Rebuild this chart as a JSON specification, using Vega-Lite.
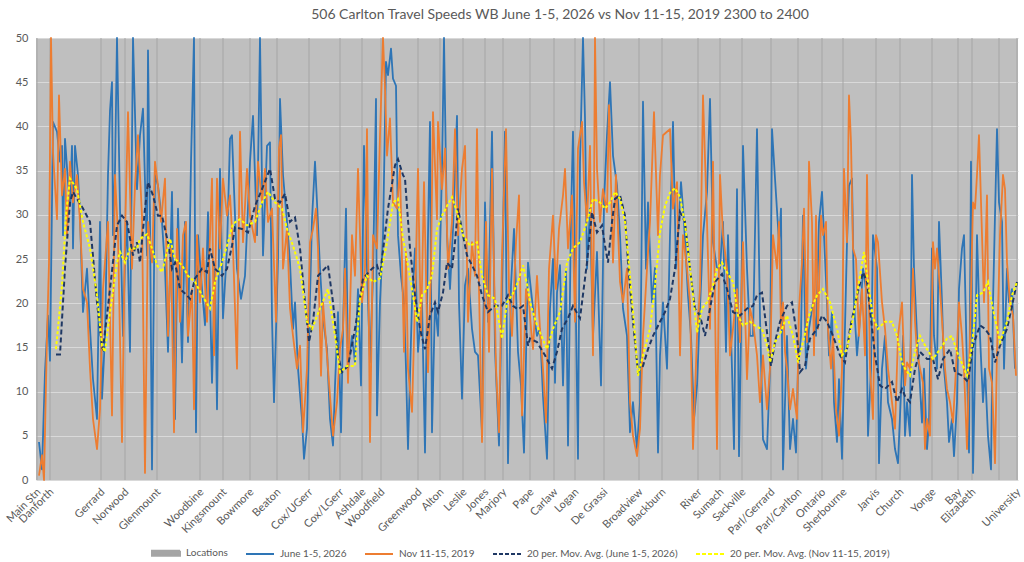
{
  "$schema": "https://vega.github.io/schema/vega-lite/v6.json",
  "width": 982,
  "height": 442,
  "autosize": "none",
  "padding": {"left": 36, "top": 38, "right": 6, "bottom": 82},
  "background": "white",
  "title": {
    "text": "506 Carlton Travel Speeds WB June 1-5, 2026 vs Nov 11-15, 2019 2300 to 2400",
    "font": "Lato", "fontSize": 14, "fontWeight": "normal", "color": "#595959",
    "anchor": "middle", "offset": 10, "dx": 33
  },
  "config": {
    "view": {"fill": "#bfbfbf", "stroke": null},
    "axisY": {
      "grid": true, "gridColor": "#d9d9d9", "gridWidth": 1, "domain": false, "ticks": false,
      "labelColor": "#595959", "labelFont": "Lato", "labelFontSize": 11, "labelPadding": 8, "tickCount": 10
    },
    "legend": {
      "orient": "none", "legendX": 115, "legendY": 500, "direction": "horizontal",
      "symbolType": "stroke", "symbolSize": 784, "symbolStrokeWidth": 2,
      "labelFont": "Lato", "labelFontSize": 10, "labelColor": "#595959", "labelLimit": 300,
      "columnPadding": 14, "labelOffset": 5
    }
  },
  "datasets": {
    "locations": [
      {"i":1,"name":"Main Stn"},{"i":14,"name":"Danforth"},{"i":65,"name":"Gerrard"},{"i":89,"name":"Norwood"},
      {"i":121,"name":"Glenmount"},{"i":164,"name":"Woodbine"},{"i":187,"name":"Kingsmount"},{"i":214,"name":"Bowmore"},
      {"i":241,"name":"Beaton"},{"i":273,"name":"Cox/UGerr"},{"i":304,"name":"Cox/LGerr"},{"i":326,"name":"Ashdale"},
      {"i":345,"name":"Woodfield"},{"i":382,"name":"Greenwood"},{"i":404,"name":"Alton"},{"i":427,"name":"Leslie"},
      {"i":449,"name":"Jones"},{"i":467,"name":"Marjory"},{"i":494,"name":"Pape"},{"i":518,"name":"Carlaw"},
      {"i":539,"name":"Logan"},{"i":568,"name":"De Grassi"},{"i":603,"name":"Broadview"},{"i":626,"name":"Blackburn"},
      {"i":662,"name":"River"},{"i":684,"name":"Sumach"},{"i":706,"name":"Sackville"},{"i":735,"name":"Parl/Gerrard"},
      {"i":762,"name":"Parl/Carlton"},{"i":786,"name":"Ontario"},{"i":807,"name":"Sherbourne"},{"i":840,"name":"Jarvis"},
      {"i":864,"name":"Church"},{"i":896,"name":"Yonge"},{"i":922,"name":"Bay"},{"i":936,"name":"Elizabeth"},
      {"i":963,"name":""},{"i":981,"name":"University"}
    ],
    "june": [
      {"i":3,"v":4.3},{"i":6,"v":1.2},{"i":9,"v":12.2},{"i":12,"v":18.6},{"i":14,"v":13.5},{"i":17,"v":40.5},{"i":21,"v":39.4},{"i":24,"v":36},{"i":26,"v":37.8},{"i":27,"v":27.7},
      {"i":29,"v":38.6},{"i":32,"v":33.7},{"i":34,"v":31},{"i":36,"v":37.8},{"i":37,"v":26.2},{"i":39,"v":37.8},{"i":42,"v":34.5},{"i":44,"v":29.9},{"i":46,"v":22.4},{"i":47,"v":19},
      {"i":51,"v":23.9},{"i":54,"v":17.1},{"i":57,"v":11.4},{"i":61,"v":6.9},{"i":64,"v":29.2},{"i":66,"v":9.2},{"i":69,"v":16.3},{"i":72,"v":34.5},{"i":74,"v":41.8},{"i":76,"v":45},
      {"i":77,"v":27.7},{"i":79,"v":35},{"i":81,"v":50},{"i":84,"v":30.7},{"i":87,"v":16.3},{"i":89,"v":25},{"i":91,"v":29.2},{"i":94,"v":14.5},{"i":97,"v":50},{"i":101,"v":32.9},
      {"i":104,"v":39},{"i":107,"v":42},{"i":111,"v":25.4},{"i":112,"v":48.6},{"i":114,"v":29.2},{"i":116,"v":1.2},{"i":119,"v":34.5},{"i":122,"v":33.3},{"i":126,"v":29.2},{"i":129,"v":23.9},
      {"i":132,"v":14.5},{"i":136,"v":32.6},{"i":139,"v":6.9},{"i":142,"v":30.7},{"i":146,"v":13.3},{"i":149,"v":29.2},{"i":152,"v":15.6},{"i":155,"v":36},{"i":158,"v":50},{"i":160,"v":5.4},
      {"i":162,"v":27.7},{"i":166,"v":21.6},{"i":169,"v":17.5},{"i":172,"v":30.3},{"i":176,"v":11},{"i":179,"v":24.3},{"i":181,"v":8},{"i":184,"v":35.2},{"i":187,"v":18.3},{"i":191,"v":26.2},
      {"i":194,"v":38.6},{"i":196,"v":39},{"i":201,"v":23.9},{"i":205,"v":20.5},{"i":209,"v":23.1},{"i":214,"v":36},{"i":217,"v":41.2},{"i":221,"v":27.7},{"i":224,"v":50},{"i":227,"v":25.4},
      {"i":231,"v":37.8},{"i":234,"v":38.2},{"i":236,"v":18.3},{"i":238,"v":8.8},{"i":242,"v":25},{"i":244,"v":43.1},{"i":247,"v":34.5},{"i":251,"v":29.2},{"i":254,"v":24.6},{"i":257,"v":17.1},
      {"i":259,"v":20.1},{"i":262,"v":12.6},{"i":266,"v":6.9},{"i":268,"v":2.4},{"i":271,"v":5.8},{"i":273,"v":16.3},{"i":276,"v":29.5},{"i":279,"v":36},{"i":281,"v":31.4},{"i":284,"v":23.9},
      {"i":287,"v":18.3},{"i":291,"v":14.8},{"i":294,"v":6.9},{"i":297,"v":3.9},{"i":299,"v":10.7},{"i":302,"v":19},{"i":305,"v":5.4},{"i":307,"v":17.1},{"i":310,"v":30.7},{"i":312,"v":12.6},
      {"i":316,"v":16.3},{"i":319,"v":13.3},{"i":322,"v":21.6},{"i":325,"v":10.7},{"i":328,"v":37.8},{"i":331,"v":23.9},{"i":334,"v":13.3},{"i":337,"v":23.1},{"i":340,"v":43.1},{"i":341,"v":7.3},
      {"i":344,"v":20.1},{"i":347,"v":27.7},{"i":350,"v":47.3},{"i":352,"v":45.8},{"i":355,"v":48.8},{"i":357,"v":45.4},{"i":360,"v":44.6},{"i":362,"v":27.7},{"i":365,"v":23.1},{"i":368,"v":20.1},
      {"i":370,"v":12.6},{"i":372,"v":3.5},{"i":376,"v":20.1},{"i":379,"v":26.2},{"i":382,"v":14.5},{"i":386,"v":20.1},{"i":389,"v":3.1},{"i":392,"v":27.7},{"i":394,"v":40.5},{"i":396,"v":5.4},
      {"i":399,"v":20.1},{"i":402,"v":16.3},{"i":406,"v":35.2},{"i":408,"v":50},{"i":411,"v":27.7},{"i":414,"v":21.6},{"i":417,"v":28.4},{"i":421,"v":41.2},{"i":423,"v":20.1},{"i":426,"v":9.2},
      {"i":429,"v":22},{"i":432,"v":23.9},{"i":436,"v":17.1},{"i":439,"v":14.5},{"i":442,"v":14.1},{"i":446,"v":5.4},{"i":449,"v":31.4},{"i":452,"v":17.9},{"i":456,"v":39.4},{"i":459,"v":14.8},
      {"i":463,"v":3.9},{"i":466,"v":21.6},{"i":469,"v":39.4},{"i":472,"v":1.9},{"i":475,"v":22},{"i":478,"v":28.4},{"i":482,"v":14.5},{"i":485,"v":10.7},{"i":488,"v":3.1},{"i":492,"v":24.6},
      {"i":497,"v":19.4},{"i":501,"v":16.3},{"i":504,"v":17.1},{"i":507,"v":9.5},{"i":511,"v":2.4},{"i":514,"v":19.4},{"i":517,"v":25},{"i":519,"v":11},{"i":521,"v":21.2},{"i":524,"v":24.3},
      {"i":527,"v":10.7},{"i":530,"v":23.9},{"i":532,"v":3.9},{"i":535,"v":29.9},{"i":537,"v":39.4},{"i":540,"v":17.9},{"i":542,"v":2.4},{"i":544,"v":36},{"i":547,"v":50},{"i":549,"v":40.9},
      {"i":551,"v":23.9},{"i":554,"v":30.7},{"i":557,"v":16.3},{"i":561,"v":25.8},{"i":565,"v":10.7},{"i":568,"v":31.4},{"i":571,"v":39},{"i":574,"v":45},{"i":577,"v":36.7},{"i":581,"v":33.3},
      {"i":584,"v":27.7},{"i":587,"v":19.4},{"i":591,"v":16.3},{"i":594,"v":5.4},{"i":597,"v":8.8},{"i":601,"v":3.5},{"i":604,"v":8.8},{"i":607,"v":42.8},{"i":610,"v":23.9},{"i":612,"v":31.4},
      {"i":616,"v":20.1},{"i":619,"v":24},{"i":622,"v":3.1},{"i":624,"v":14.1},{"i":627,"v":20.1},{"i":631,"v":12.6},{"i":634,"v":27.7},{"i":637,"v":40.5},{"i":640,"v":23.9},{"i":642,"v":27.7},
      {"i":645,"v":33.7},{"i":648,"v":29.2},{"i":652,"v":20.9},{"i":655,"v":16.3},{"i":658,"v":6.9},{"i":661,"v":10.7},{"i":664,"v":19.4},{"i":667,"v":27.7},{"i":671,"v":32.6},{"i":674,"v":43.1},
      {"i":677,"v":26.9},{"i":681,"v":23.9},{"i":684,"v":23.9},{"i":687,"v":29.2},{"i":690,"v":14.5},{"i":692,"v":27.7},{"i":696,"v":12.6},{"i":698,"v":3.5},{"i":701,"v":32.9},{"i":703,"v":2.7},
      {"i":705,"v":16.3},{"i":707,"v":37.8},{"i":711,"v":23.9},{"i":714,"v":16.3},{"i":717,"v":16.3},{"i":721,"v":39.7},{"i":724,"v":18.3},{"i":727,"v":4.6},{"i":731,"v":3.5},{"i":734,"v":12.6},
      {"i":736,"v":39.7},{"i":739,"v":34.1},{"i":743,"v":26.9},{"i":745,"v":30.7},{"i":747,"v":1.2},{"i":749,"v":8.8},{"i":751,"v":16.3},{"i":754,"v":3.5},{"i":757,"v":6.9},{"i":760,"v":3.1},
      {"i":762,"v":12.6},{"i":765,"v":16.3},{"i":767,"v":29.9},{"i":770,"v":12.6},{"i":773,"v":17.1},{"i":777,"v":20.1},{"i":780,"v":16.3},{"i":783,"v":29.2},{"i":786,"v":32.6},{"i":788,"v":27.7},
      {"i":791,"v":20.1},{"i":793,"v":14.1},{"i":796,"v":19},{"i":798,"v":8.8},{"i":801,"v":4.3},{"i":803,"v":11.4},{"i":806,"v":2.4},{"i":808,"v":12.6},{"i":811,"v":26.9},{"i":813,"v":33.3},
      {"i":816,"v":34.1},{"i":818,"v":20.1},{"i":821,"v":14.1},{"i":824,"v":18.3},{"i":827,"v":23.9},{"i":830,"v":21.6},{"i":832,"v":5},{"i":835,"v":12.6},{"i":837,"v":27.7},{"i":841,"v":23.9},
      {"i":843,"v":1.9},{"i":846,"v":12.6},{"i":849,"v":16.3},{"i":852,"v":8.8},{"i":856,"v":6.9},{"i":859,"v":3.5},{"i":862,"v":1.9},{"i":866,"v":12.6},{"i":867,"v":16.3},{"i":869,"v":5},
      {"i":871,"v":8.8},{"i":874,"v":5},{"i":876,"v":34.5},{"i":878,"v":23.9},{"i":881,"v":16.3},{"i":883,"v":12.6},{"i":886,"v":6.5},{"i":888,"v":12.6},{"i":891,"v":3.5},{"i":893,"v":6.5},
      {"i":896,"v":26.2},{"i":898,"v":16.3},{"i":901,"v":12.6},{"i":903,"v":29.2},{"i":906,"v":20.1},{"i":908,"v":12.6},{"i":911,"v":8.8},{"i":913,"v":4.3},{"i":916,"v":6.9},{"i":918,"v":2.7},
      {"i":921,"v":8.8},{"i":923,"v":21.6},{"i":926,"v":26.2},{"i":928,"v":27.7},{"i":931,"v":12.6},{"i":933,"v":3.1},{"i":935,"v":36},{"i":937,"v":0.8},{"i":939,"v":12.6},{"i":941,"v":27.7},
      {"i":944,"v":16.3},{"i":947,"v":8.8},{"i":949,"v":12.6},{"i":952,"v":5},{"i":955,"v":1.2},{"i":957,"v":20.1},{"i":961,"v":39.7},{"i":963,"v":31.4},{"i":966,"v":29.2},{"i":968,"v":12.6},
      {"i":971,"v":23.9},{"i":973,"v":20.1},{"i":976,"v":21.6},{"i":979,"v":12.6}
    ],
    "nov": [
      {"i":3,"v":0.5},{"i":6,"v":2.8},{"i":8,"v":0},{"i":11,"v":16.3},{"i":13,"v":24.6},{"i":15,"v":50},{"i":17,"v":37.1},{"i":21,"v":29.5},{"i":23,"v":43.5},{"i":26,"v":32.2},
      {"i":29,"v":35.2},{"i":31,"v":27.7},{"i":34,"v":36},{"i":37,"v":31.4},{"i":41,"v":34.5},{"i":44,"v":29.2},{"i":47,"v":21.6},{"i":51,"v":20.1},{"i":54,"v":12.6},{"i":57,"v":6.9},
      {"i":61,"v":3.5},{"i":64,"v":8},{"i":67,"v":21.6},{"i":72,"v":29.2},{"i":76,"v":7.3},{"i":79,"v":34.5},{"i":82,"v":27.7},{"i":86,"v":4.3},{"i":89,"v":27.7},{"i":92,"v":41.6},
      {"i":96,"v":23.9},{"i":99,"v":33.3},{"i":102,"v":39},{"i":106,"v":29.9},{"i":109,"v":0.8},{"i":112,"v":29.2},{"i":116,"v":24.6},{"i":119,"v":36},{"i":122,"v":33.3},{"i":125,"v":29.2},
      {"i":129,"v":34.1},{"i":132,"v":16.3},{"i":135,"v":26.2},{"i":138,"v":5.4},{"i":141,"v":28.4},{"i":144,"v":17.9},{"i":147,"v":27.7},{"i":150,"v":29.2},{"i":152,"v":16.3},{"i":156,"v":21.6},
      {"i":158,"v":8},{"i":161,"v":27.7},{"i":164,"v":20.1},{"i":167,"v":26.2},{"i":171,"v":17.9},{"i":176,"v":34.1},{"i":178,"v":14.1},{"i":181,"v":34.1},{"i":184,"v":26.2},{"i":187,"v":34.1},
      {"i":191,"v":29.9},{"i":194,"v":32.2},{"i":197,"v":26.2},{"i":201,"v":12.6},{"i":204,"v":39.4},{"i":207,"v":26.9},{"i":211,"v":35.2},{"i":214,"v":29.9},{"i":219,"v":26.9},{"i":222,"v":36},
      {"i":226,"v":31.4},{"i":229,"v":35.2},{"i":232,"v":29.2},{"i":236,"v":30.7},{"i":240,"v":17.9},{"i":243,"v":37.5},{"i":245,"v":39},{"i":247,"v":23.9},{"i":251,"v":28.4},{"i":254,"v":19.4},
      {"i":257,"v":16.3},{"i":261,"v":12.6},{"i":264,"v":15.2},{"i":267,"v":5.4},{"i":271,"v":12.6},{"i":274,"v":26.9},{"i":277,"v":28.4},{"i":280,"v":30.7},{"i":282,"v":26.2},{"i":285,"v":11.8},
      {"i":287,"v":20.1},{"i":291,"v":14.1},{"i":294,"v":9.5},{"i":297,"v":5},{"i":301,"v":8.8},{"i":304,"v":14.8},{"i":307,"v":17.1},{"i":309,"v":23.9},{"i":312,"v":11},{"i":316,"v":27.7},
      {"i":319,"v":23.1},{"i":322,"v":35.2},{"i":326,"v":20.1},{"i":329,"v":23.9},{"i":331,"v":39.7},{"i":334,"v":4.3},{"i":337,"v":27.7},{"i":341,"v":26.2},{"i":344,"v":39},{"i":347,"v":50},
      {"i":349,"v":44.3},{"i":351,"v":36.7},{"i":354,"v":40.9},{"i":357,"v":31.4},{"i":361,"v":30.7},{"i":364,"v":35.2},{"i":368,"v":14.5},{"i":370,"v":25.8},{"i":372,"v":12.6},{"i":376,"v":7.7},
      {"i":379,"v":20.1},{"i":382,"v":35.2},{"i":385,"v":16.3},{"i":388,"v":33.7},{"i":392,"v":12.2},{"i":395,"v":23.9},{"i":397,"v":41.6},{"i":401,"v":29.5},{"i":402,"v":40.5},{"i":406,"v":32.9},
      {"i":409,"v":37.5},{"i":412,"v":23.9},{"i":416,"v":29.2},{"i":419,"v":39.7},{"i":422,"v":27.7},{"i":426,"v":35.2},{"i":429,"v":37.8},{"i":432,"v":17.9},{"i":436,"v":26.9},{"i":439,"v":23.1},
      {"i":441,"v":39.7},{"i":443,"v":21.6},{"i":446,"v":4.3},{"i":450,"v":29.2},{"i":453,"v":14.5},{"i":456,"v":35.2},{"i":460,"v":12.6},{"i":463,"v":5.4},{"i":466,"v":25.4},{"i":470,"v":39.7},
      {"i":473,"v":21.6},{"i":476,"v":16.3},{"i":480,"v":26.9},{"i":483,"v":32.2},{"i":486,"v":7.3},{"i":490,"v":21.6},{"i":493,"v":20.1},{"i":495,"v":17.1},{"i":497,"v":14.8},{"i":501,"v":23.1},
      {"i":504,"v":17.1},{"i":507,"v":12.6},{"i":510,"v":6.5},{"i":513,"v":23.9},{"i":517,"v":29.9},{"i":520,"v":21.6},{"i":523,"v":28.4},{"i":527,"v":32.2},{"i":529,"v":35.2},{"i":532,"v":26.2},
      {"i":536,"v":32.2},{"i":539,"v":17.9},{"i":542,"v":37.5},{"i":546,"v":40.5},{"i":548,"v":33.7},{"i":551,"v":29.2},{"i":554,"v":37.8},{"i":557,"v":14.1},{"i":559,"v":50},{"i":561,"v":35.2},
      {"i":564,"v":29.2},{"i":567,"v":32.9},{"i":571,"v":30.3},{"i":573,"v":42.4},{"i":577,"v":24.6},{"i":580,"v":34.5},{"i":584,"v":22.4},{"i":587,"v":20.1},{"i":591,"v":23.9},{"i":594,"v":8.8},
      {"i":597,"v":5},{"i":601,"v":2.7},{"i":604,"v":5.8},{"i":607,"v":16.3},{"i":611,"v":23.9},{"i":614,"v":29.2},{"i":618,"v":41.6},{"i":622,"v":27.7},{"i":624,"v":34.5},{"i":627,"v":39},
      {"i":631,"v":39.4},{"i":634,"v":39.7},{"i":637,"v":30.7},{"i":641,"v":33.7},{"i":644,"v":14.1},{"i":647,"v":27.7},{"i":651,"v":23.9},{"i":654,"v":20.1},{"i":657,"v":3.5},{"i":661,"v":16.3},
      {"i":664,"v":21.6},{"i":667,"v":43.5},{"i":671,"v":29.2},{"i":674,"v":17.1},{"i":677,"v":36},{"i":681,"v":3.5},{"i":684,"v":34.5},{"i":687,"v":27.7},{"i":691,"v":23.9},{"i":694,"v":14.1},
      {"i":697,"v":17.1},{"i":701,"v":21.6},{"i":704,"v":15.6},{"i":707,"v":26.9},{"i":711,"v":11.4},{"i":714,"v":19.4},{"i":717,"v":17.9},{"i":721,"v":14.1},{"i":724,"v":8.8},{"i":727,"v":14.1},
      {"i":731,"v":8},{"i":734,"v":12.6},{"i":737,"v":27.7},{"i":741,"v":23.9},{"i":743,"v":29.2},{"i":745,"v":17.1},{"i":747,"v":20.1},{"i":749,"v":14.5},{"i":751,"v":12.6},{"i":754,"v":8},
      {"i":757,"v":10.3},{"i":761,"v":6.9},{"i":763,"v":19.4},{"i":766,"v":24.6},{"i":768,"v":30.7},{"i":771,"v":15.6},{"i":773,"v":36},{"i":776,"v":29.2},{"i":778,"v":14.1},{"i":780,"v":29.9},
      {"i":782,"v":17.1},{"i":785,"v":29.9},{"i":787,"v":27.7},{"i":790,"v":29.2},{"i":792,"v":17.1},{"i":795,"v":12.6},{"i":797,"v":16.3},{"i":800,"v":8},{"i":803,"v":5},{"i":806,"v":12.6},
      {"i":808,"v":35.2},{"i":811,"v":26.9},{"i":813,"v":43.5},{"i":815,"v":38.2},{"i":817,"v":26.2},{"i":820,"v":25},{"i":823,"v":16.3},{"i":826,"v":21.6},{"i":829,"v":14.1},{"i":831,"v":34.5},
      {"i":834,"v":12.6},{"i":837,"v":6.9},{"i":840,"v":27.7},{"i":842,"v":26.9},{"i":846,"v":20.1},{"i":849,"v":17.1},{"i":852,"v":12.6},{"i":856,"v":8.8},{"i":859,"v":5.8},{"i":862,"v":16.3},
      {"i":866,"v":20.1},{"i":869,"v":10.7},{"i":871,"v":13.3},{"i":874,"v":12.6},{"i":877,"v":23.9},{"i":879,"v":17.9},{"i":881,"v":14.5},{"i":884,"v":12.6},{"i":887,"v":11},{"i":889,"v":3.5},
      {"i":891,"v":6.9},{"i":894,"v":5},{"i":897,"v":26.9},{"i":899,"v":23.9},{"i":901,"v":26.2},{"i":904,"v":21.6},{"i":907,"v":16.3},{"i":909,"v":12.6},{"i":911,"v":10.3},{"i":914,"v":8.8},
      {"i":917,"v":6.5},{"i":920,"v":12.6},{"i":923,"v":20.1},{"i":926,"v":16.3},{"i":928,"v":12.6},{"i":931,"v":3.5},{"i":934,"v":16.3},{"i":937,"v":31.4},{"i":939,"v":30.7},{"i":941,"v":34.5},
      {"i":943,"v":39},{"i":946,"v":27.7},{"i":948,"v":20.1},{"i":951,"v":32.2},{"i":953,"v":12.6},{"i":956,"v":11},{"i":959,"v":1.9},{"i":961,"v":14.5},{"i":964,"v":27.7},{"i":967,"v":34.5},
      {"i":969,"v":32.9},{"i":971,"v":24.6},{"i":974,"v":20.1},{"i":977,"v":18.6},{"i":980,"v":11.8}
    ],
    "maJune": [
      {"i":20,"v":14.2},{"i":24,"v":14.2},{"i":29,"v":24},{"i":34,"v":31.4},{"i":37,"v":32.6},{"i":41,"v":31.8},{"i":47,"v":30.7},{"i":54,"v":29.2},{"i":61,"v":20.1},{"i":66,"v":15},
      {"i":67,"v":14.8},{"i":74,"v":21.6},{"i":81,"v":28.8},{"i":86,"v":29.9},{"i":91,"v":29.2},{"i":94,"v":27.3},{"i":97,"v":25.4},{"i":101,"v":26.9},{"i":104,"v":24.6},{"i":109,"v":30.7},
      {"i":112,"v":33.7},{"i":117,"v":32.2},{"i":122,"v":29.9},{"i":126,"v":29.9},{"i":132,"v":26.9},{"i":136,"v":23.9},{"i":139,"v":24.6},{"i":144,"v":21.6},{"i":151,"v":20.9},{"i":154,"v":20.5},
      {"i":159,"v":22.8},{"i":166,"v":23.9},{"i":171,"v":23.5},{"i":174,"v":26.2},{"i":179,"v":23.9},{"i":186,"v":23.1},{"i":191,"v":23.9},{"i":196,"v":26.5},{"i":199,"v":28.6},{"i":206,"v":28.4},
      {"i":212,"v":28},{"i":219,"v":31},{"i":226,"v":32.9},{"i":234,"v":35.2},{"i":239,"v":31.8},{"i":244,"v":31.4},{"i":249,"v":32.4},{"i":254,"v":29.2},{"i":259,"v":29.7},{"i":264,"v":26.2},
      {"i":269,"v":20.1},{"i":273,"v":15.6},{"i":277,"v":17.9},{"i":282,"v":23.1},{"i":287,"v":23.7},{"i":292,"v":24.3},{"i":297,"v":20.1},{"i":302,"v":14.1},{"i":306,"v":12.2},{"i":312,"v":12.9},
      {"i":319,"v":17.1},{"i":327,"v":22.8},{"i":336,"v":23.9},{"i":341,"v":24.3},{"i":344,"v":23.1},{"i":352,"v":30.7},{"i":359,"v":35.6},{"i":362,"v":36.3},{"i":367,"v":34.5},{"i":369,"v":34.1},
      {"i":374,"v":26.2},{"i":379,"v":20.9},{"i":384,"v":17.1},{"i":389,"v":14.8},{"i":394,"v":18.6},{"i":399,"v":20.1},{"i":402,"v":19},{"i":407,"v":21.2},{"i":411,"v":24.6},{"i":416,"v":23.9},
      {"i":419,"v":26.9},{"i":422,"v":30.7},{"i":427,"v":27.7},{"i":431,"v":25.4},{"i":436,"v":24.3},{"i":441,"v":23.1},{"i":446,"v":20.9},{"i":452,"v":19},{"i":459,"v":19.7},{"i":466,"v":19.7},
      {"i":472,"v":20.9},{"i":477,"v":19.7},{"i":482,"v":19.3},{"i":487,"v":19.7},{"i":492,"v":15.2},{"i":494,"v":16},{"i":501,"v":15.6},{"i":509,"v":14.1},{"i":516,"v":12.6},{"i":521,"v":14.5},
      {"i":526,"v":17.1},{"i":532,"v":18.3},{"i":537,"v":19.7},{"i":544,"v":18.3},{"i":551,"v":24.6},{"i":556,"v":30.3},{"i":561,"v":28},{"i":566,"v":28.8},{"i":569,"v":26.5},{"i":572,"v":24.6},
      {"i":576,"v":29.2},{"i":579,"v":31.8},{"i":584,"v":32.2},{"i":589,"v":29.9},{"i":592,"v":24.6},{"i":597,"v":17.9},{"i":602,"v":12.2},{"i":607,"v":12.9},{"i":612,"v":14.8},{"i":617,"v":16.3},
      {"i":624,"v":17.9},{"i":629,"v":19},{"i":634,"v":20.5},{"i":639,"v":23.9},{"i":644,"v":30.3},{"i":649,"v":29.2},{"i":654,"v":23.9},{"i":659,"v":19.4},{"i":664,"v":18.6},{"i":669,"v":16.3},
      {"i":674,"v":19.4},{"i":679,"v":22.4},{"i":686,"v":23.3},{"i":691,"v":21.6},{"i":697,"v":19},{"i":704,"v":18.6},{"i":711,"v":19.4},{"i":717,"v":19.7},{"i":721,"v":20.9},{"i":726,"v":21.2},
      {"i":731,"v":16.7},{"i":735,"v":12.9},{"i":739,"v":15.6},{"i":744,"v":17.9},{"i":751,"v":19.7},{"i":756,"v":20.1},{"i":761,"v":16.3},{"i":764,"v":12.2},{"i":769,"v":12.9},{"i":774,"v":16},
      {"i":781,"v":17.1},{"i":786,"v":18.6},{"i":791,"v":17.9},{"i":797,"v":16.3},{"i":804,"v":14.1},{"i":809,"v":13.3},{"i":814,"v":17.1},{"i":821,"v":20.9},{"i":827,"v":23.5},{"i":831,"v":22.4},
      {"i":834,"v":19.3},{"i":839,"v":14.1},{"i":844,"v":10.7},{"i":849,"v":10.3},{"i":856,"v":11.1},{"i":861,"v":8.8},{"i":866,"v":10.3},{"i":869,"v":9.5},{"i":874,"v":8.8},{"i":879,"v":12.6},
      {"i":884,"v":14.5},{"i":891,"v":13.7},{"i":897,"v":13.7},{"i":902,"v":11.4},{"i":907,"v":13.7},{"i":914,"v":14.8},{"i":919,"v":12.2},{"i":926,"v":11.8},{"i":932,"v":11.1},{"i":937,"v":15.2},
      {"i":944,"v":17.5},{"i":949,"v":17.1},{"i":954,"v":16.3},{"i":959,"v":13.3},{"i":964,"v":15.2},{"i":971,"v":17.1},{"i":976,"v":19.7},{"i":981,"v":22.4}
    ],
    "maNov": [
      {"i":20,"v":14.8},{"i":26,"v":22},{"i":30,"v":30},{"i":34,"v":34.1},{"i":41,"v":32.9},{"i":47,"v":29.2},{"i":54,"v":26.2},{"i":61,"v":20.9},{"i":66,"v":15.2},{"i":69,"v":14.5},
      {"i":74,"v":19},{"i":81,"v":24.6},{"i":84,"v":25.8},{"i":89,"v":24.6},{"i":94,"v":26.2},{"i":101,"v":26.2},{"i":104,"v":27.3},{"i":111,"v":27.8},{"i":116,"v":26.2},{"i":121,"v":24.3},
      {"i":126,"v":23.5},{"i":134,"v":27.3},{"i":139,"v":25},{"i":146,"v":24.3},{"i":152,"v":23.1},{"i":159,"v":22.4},{"i":166,"v":20.9},{"i":174,"v":19.4},{"i":179,"v":22.4},{"i":186,"v":24.6},
      {"i":192,"v":26.9},{"i":197,"v":29},{"i":204,"v":29.5},{"i":211,"v":28.8},{"i":219,"v":29.2},{"i":226,"v":31.4},{"i":232,"v":32.6},{"i":239,"v":31.4},{"i":246,"v":30.7},{"i":251,"v":28.4},
      {"i":257,"v":26.5},{"i":264,"v":23.9},{"i":271,"v":17.9},{"i":276,"v":17.1},{"i":284,"v":19.4},{"i":292,"v":21.6},{"i":299,"v":16.3},{"i":304,"v":12.2},{"i":311,"v":12.9},{"i":319,"v":12.9},
      {"i":324,"v":20.5},{"i":331,"v":23.1},{"i":337,"v":22.4},{"i":344,"v":22.8},{"i":351,"v":26.9},{"i":357,"v":31.4},{"i":362,"v":31.8},{"i":367,"v":27.3},{"i":369,"v":26.2},{"i":376,"v":21.6},
      {"i":381,"v":17.9},{"i":386,"v":20.9},{"i":391,"v":21.6},{"i":396,"v":23.1},{"i":401,"v":28.4},{"i":406,"v":29.9},{"i":411,"v":31},{"i":416,"v":32},{"i":421,"v":30.3},{"i":427,"v":27.7},
      {"i":434,"v":26.5},{"i":441,"v":26.9},{"i":446,"v":23.1},{"i":452,"v":20.9},{"i":459,"v":20.5},{"i":466,"v":16},{"i":471,"v":20.1},{"i":476,"v":20.9},{"i":482,"v":22.4},{"i":487,"v":24.3},
      {"i":492,"v":21.6},{"i":494,"v":20.1},{"i":501,"v":17.5},{"i":511,"v":14.8},{"i":517,"v":17.1},{"i":524,"v":19},{"i":531,"v":24.6},{"i":537,"v":26.2},{"i":544,"v":26.9},{"i":551,"v":29.2},
      {"i":557,"v":31.8},{"i":564,"v":31.4},{"i":569,"v":30.7},{"i":574,"v":31.4},{"i":579,"v":32.6},{"i":584,"v":31.8},{"i":589,"v":29.2},{"i":594,"v":23.1},{"i":599,"v":16.3},{"i":602,"v":11.8},
      {"i":607,"v":14.1},{"i":614,"v":17.1},{"i":619,"v":22},{"i":624,"v":28},{"i":629,"v":31},{"i":634,"v":32.5},{"i":639,"v":33},{"i":644,"v":32},{"i":649,"v":29},{"i":654,"v":24},
      {"i":661,"v":16.7},{"i":666,"v":19.4},{"i":671,"v":20.1},{"i":676,"v":21.6},{"i":681,"v":23.9},{"i":686,"v":24.6},{"i":691,"v":23.5},{"i":697,"v":22.4},{"i":702,"v":18.6},{"i":707,"v":17.5},
      {"i":714,"v":17.9},{"i":721,"v":17.3},{"i":726,"v":17.1},{"i":731,"v":15.2},{"i":734,"v":13.3},{"i":739,"v":15.6},{"i":744,"v":16.5},{"i":751,"v":18.6},{"i":757,"v":16.3},{"i":762,"v":13.3},
      {"i":767,"v":15.6},{"i":774,"v":19},{"i":781,"v":20.9},{"i":787,"v":21.6},{"i":794,"v":20.1},{"i":801,"v":17.1},{"i":806,"v":14.1},{"i":811,"v":14.8},{"i":817,"v":18.3},{"i":824,"v":23.1},
      {"i":828,"v":25.8},{"i":832,"v":22.4},{"i":837,"v":18.3},{"i":842,"v":17.1},{"i":849,"v":17.9},{"i":856,"v":17.9},{"i":861,"v":16.3},{"i":866,"v":13.3},{"i":869,"v":12.6},{"i":874,"v":11.8},
      {"i":879,"v":14.5},{"i":884,"v":16.3},{"i":891,"v":14.8},{"i":897,"v":13.7},{"i":904,"v":14.8},{"i":911,"v":16},{"i":916,"v":16.3},{"i":921,"v":14.5},{"i":927,"v":12.9},{"i":931,"v":11.8},
      {"i":936,"v":15.2},{"i":941,"v":20.9},{"i":947,"v":21.2},{"i":952,"v":22.4},{"i":957,"v":19.3},{"i":964,"v":15.6},{"i":971,"v":17.9},{"i":976,"v":20.9},{"i":981,"v":22.4}
    ]
  },
  "layer": [
    {
      "data": {"name": "locations"},
      "mark": {"type": "rule", "strokeWidth": 1},
      "encoding": {
        "x": {"field": "i", "type": "quantitative", "scale": {"domain": [0, 982], "nice": false, "zero": false}, "axis": null},
        "color": {
          "datum": "Locations",
          "scale": {
            "domain": ["Locations", "June 1-5, 2026", "Nov 11-15, 2019", "20 per. Mov. Avg. (June 1-5, 2026)", "20 per. Mov. Avg. (Nov 11-15, 2019)"],
            "range": ["#a5a5a5", "#2e75b6", "#ed7d31", "#1f3864", "#ffff00"]
          },
          "legend": {
            "title": null,
            "encode": {
              "symbols": {
                "update": {
                  "shape": {"signal": "datum.value === 'Locations' ? 'M-1,-0.18H1V0.18H-1Z' : 'stroke'"},
                  "fill": {"signal": "datum.value === 'Locations' ? '#a5a5a5' : 'transparent'"},
                  "strokeWidth": {"value": 2},
                  "strokeDash": {"signal": "indexof(datum.value, 'Mov.') >= 0 ? [4, 2] : [1, 0]"}
                }
              }
            }
          }
        }
      }
    },
    {
      "data": {"name": "locations"},
      "mark": {"type": "text", "angle": 315, "align": "right", "baseline": "middle", "dx": -6, "dy": 9, "font": "Lato", "fontSize": 11, "color": "#595959"},
      "encoding": {
        "x": {"field": "i", "type": "quantitative"},
        "y": {"datum": 0, "type": "quantitative", "title": null},
        "text": {"field": "name"}
      }
    },
    {
      "data": {"name": "june"},
      "mark": {"type": "line", "strokeWidth": 1.8, "strokeJoin": "round"},
      "encoding": {
        "x": {"field": "i", "type": "quantitative"},
        "y": {"field": "v", "type": "quantitative", "title": null, "scale": {"domain": [0, 50], "nice": false}},
        "color": {"datum": "June 1-5, 2026"}
      }
    },
    {
      "data": {"name": "nov"},
      "mark": {"type": "line", "strokeWidth": 1.8, "strokeJoin": "round"},
      "encoding": {
        "x": {"field": "i", "type": "quantitative"},
        "y": {"field": "v", "type": "quantitative", "title": null},
        "color": {"datum": "Nov 11-15, 2019"}
      }
    },
    {
      "data": {"name": "maJune"},
      "mark": {"type": "line", "strokeWidth": 2, "strokeDash": [5, 3]},
      "encoding": {
        "x": {"field": "i", "type": "quantitative"},
        "y": {"field": "v", "type": "quantitative", "title": null},
        "color": {"datum": "20 per. Mov. Avg. (June 1-5, 2026)"}
      }
    },
    {
      "data": {"name": "maNov"},
      "mark": {"type": "line", "strokeWidth": 2, "strokeDash": [3, 2]},
      "encoding": {
        "x": {"field": "i", "type": "quantitative"},
        "y": {"field": "v", "type": "quantitative", "title": null},
        "color": {"datum": "20 per. Mov. Avg. (Nov 11-15, 2019)"}
      }
    }
  ]
}
